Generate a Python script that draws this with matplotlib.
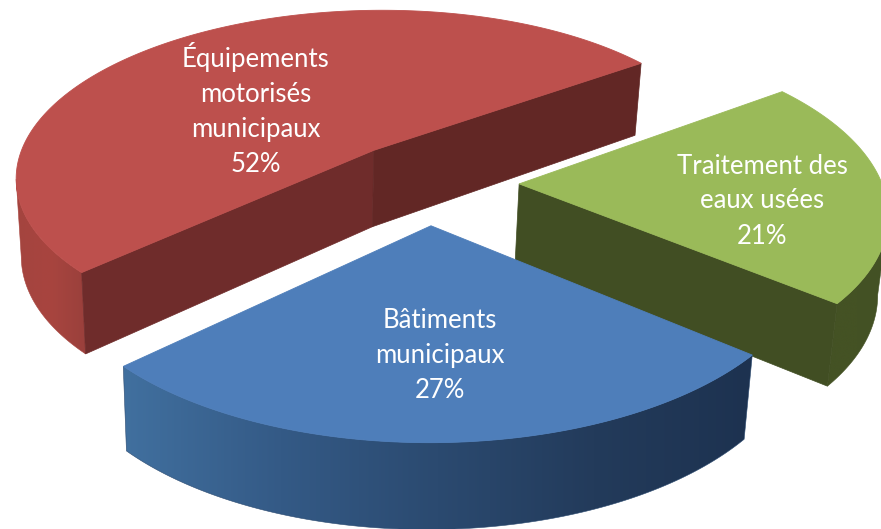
import numpy as np
import matplotlib
matplotlib.use("Agg")
import matplotlib.pyplot as plt
from matplotlib.colors import to_rgb
from matplotlib.patches import Polygon

# slices, in drawing order (back to front is handled below)
names = ["Équipements\nmotorisés\nmunicipaux", "Bâtiments\nmunicipaux", "Traitement des\neaux usées"]
values = [52, 27, 21]
top_colors = ["#BD504D", "#4E7EBA", "#9ABA59"]
start_angle = 36.1

# how far each slice is pulled out, in pie radii (across, depth)
offset_u = [-0.188, -0.024, 0.218]
offset_v = [6.87, 6.43, 6.667]

# wall colours: left to right along the rim, and the flat cut faces
rim_colors = [["#A4443F", "#A8453F", "#9A403C"],
              ["#41709F", "#345A86", "#2B4A70", "#233B5B", "#1D3250"],
              ["#445224", "#445224", "#435125"]]
cut_colors = [["#6F2C2B", "#622725"], [], ["#414E23"]]

label_x = [256, 440, 762]
label_y = [110, 355, 201]

# perspective of the floor
X0, Y0, E, C = 440.0, -952.0, 2420.0, 7573.0


def project(u, v):
    return X0 + E * u / v, Y0 + C / v


def drop(x, v):
    # lower edge of a wall under a top point
    return x - (x - 300) * 0.018, 126.5 - 7.3 * v


def wall_outline(us, vs):
    x, y = project(us, vs)
    bx, d = drop(x, vs)
    return np.r_[x, bx[::-1]], np.r_[y, (y + d)[::-1]]


def rim(ax, us, vs, stops):
    # gradient along x, cut to the shape of the wall
    px, py = wall_outline(us, vs)
    stops = np.array([to_rgb(s) for s in stops])
    t = np.linspace(0, 1, 256)
    pos = np.linspace(0, 1, len(stops))
    grad = np.stack([np.interp(t, pos, stops[:, i]) for i in range(3)], axis=-1)[None, :, :]
    outline = Polygon(np.c_[px, py], closed=True, transform=ax.transData, fc="none", ec="none")
    ax.add_patch(outline)
    ax.imshow(grad, extent=(px.min(), px.max(), py.max(), py.min()), aspect="auto",
              interpolation="bilinear", clip_path=outline, zorder=next(draw_order))
    ax.fill(px, py, fc="none", ec=stops[len(stops) // 2], lw=0.4, zorder=next(draw_order))


def cut(ax, us, vs, color):
    px, py = wall_outline(us, vs)
    ax.fill(px, py, color=color, lw=0.5, zorder=next(draw_order))


fig = plt.figure(figsize=(8.81, 5.29), dpi=100)
ax = fig.add_axes([0, 0, 1, 1])

draw_order = iter(range(1, 100))

# angles of each slice from the values
spans = np.array(values) / sum(values) * 360
starts = start_angle + np.concatenate([[0], np.cumsum(spans)[:-1]])

# red at the back, then green, blue in front
for k in [0, 2, 1]:
    a = np.radians(np.linspace(starts[k], starts[k] + spans[k], 300))
    us = offset_u[k] + np.cos(a)
    vs = offset_v[k] + np.sin(a)

    # the part of the rim facing us, from its leftmost to its rightmost point on screen
    front = np.where(np.sin(a) < 0.15)[0]
    sx = project(us[front], vs[front])[0]
    front = front[np.argmin(sx):np.argmax(sx) + 1]
    rim(ax, us[front], vs[front], rim_colors[k])

    # flat cut faces
    if k == 0:
        cut(ax, np.array([us[-1], offset_u[k]]), np.array([vs[-1], offset_v[k]]), cut_colors[k][0])
        cut(ax, np.array([offset_u[k], us[0]]), np.array([offset_v[k], vs[0]]), cut_colors[k][1])
    if k == 2:
        low = 0 if vs[0] < vs[-1] else -1
        cut(ax, np.array([offset_u[k], us[low]]), np.array([offset_v[k], vs[low]]), cut_colors[k][0])

    x, y = project(np.r_[offset_u[k], us], np.r_[offset_v[k], vs])
    ax.fill(x, y, color=top_colors[k], lw=0.6, zorder=next(draw_order))

for k in range(3):
    ax.text(label_x[k], label_y[k], "%s\n%d%%" % (names[k], values[k]), color="white",
            family="Lato", fontsize=18.5, ha="center", va="center", linespacing=1.5, zorder=200)

ax.set_xlim(0, 881)
ax.set_ylim(529, 0)
ax.axis("off")

fig.savefig("out.png", dpi=100)
